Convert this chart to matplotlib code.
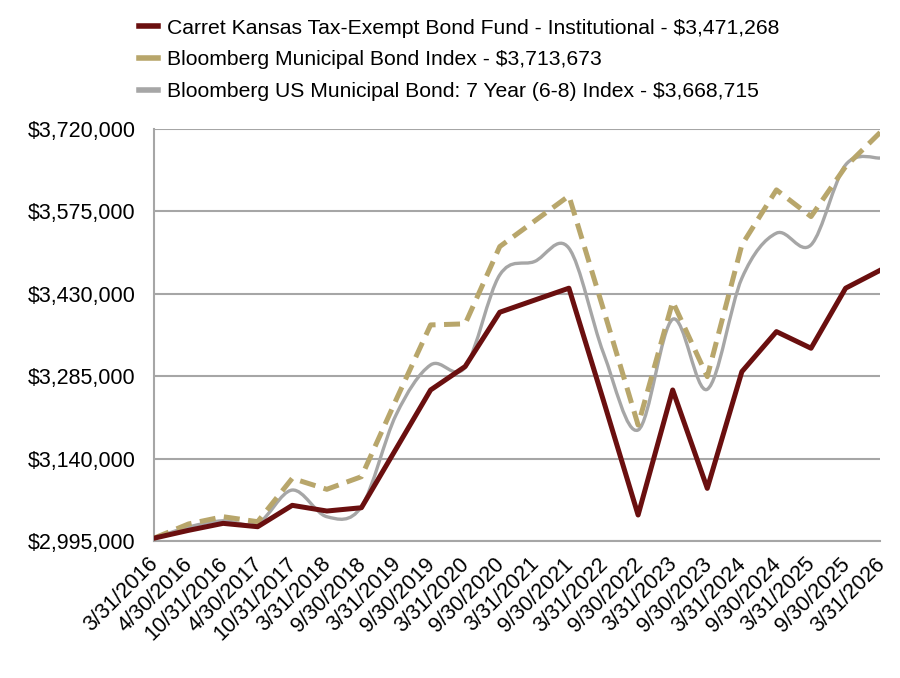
import matplotlib.pyplot as plt
import numpy as np
from matplotlib.path import Path
from matplotlib.patches import PathPatch
from matplotlib.lines import Line2D
from matplotlib.ticker import FuncFormatter
import matplotlib.transforms as mtransforms

plt.rcParams['font.family'] = ['Liberation Sans', 'DejaVu Sans']

# DATA ------------------------------------------------------------------------
dates = ['3/31/2016', '4/30/2016', '10/31/2016', '4/30/2017', '10/31/2017',
         '3/31/2018', '9/30/2018', '3/31/2019', '9/30/2019', '3/31/2020',
         '9/30/2020', '3/31/2021', '9/30/2021', '3/31/2022', '9/30/2022',
         '3/31/2023', '9/30/2023', '3/31/2024', '9/30/2024', '3/31/2025',
         '9/30/2025', '3/31/2026']

fund = [3000000, 3013800, 3026100, 3020200, 3057800, 3047800, 3053600,
        3157000, 3260700, 3302000, 3397400, 3418600, 3439700, 3241700,
        3040800, 3260700, 3087700, 3292900, 3363300, 3334100, 3439700,
        3471268]

muni = [3000000, 3025000, 3037800, 3029000, 3105300, 3086000, 3108200,
        3243100, 3375100, 3377000, 3512900, 3557500, 3602100, 3402000,
        3199100, 3416100, 3284100, 3515900, 3612600, 3565700, 3653700,
        3713673]

muni7 = [3000000, 3019600, 3030700, 3026100, 3084700, 3037800, 3055400,
         3216700, 3304700, 3300600, 3463100, 3486500, 3510000, 3325300,
         3190300, 3385100, 3261900, 3457200, 3536500, 3515900, 3656600,
         3668715]

labels = ['Carret Kansas Tax-Exempt Bond Fund - Institutional - $3,471,268',
          'Bloomberg Municipal Bond Index - $3,713,673',
          'Bloomberg US Municipal Bond: 7 Year (6-8) Index - $3,668,715']

y_ticks = [2995000, 3140000, 3285000, 3430000, 3575000, 3720000]

c_fund = '#6A0F0F'
c_muni = '#B8A66B'
c_muni7 = '#A6A6A6'


def smooth_path(x, y):
    # Excel style smoothed line: cubic bezier through every data point
    x = np.asarray(x, float)
    y = np.asarray(y, float)
    verts = [(x[0], y[0])]
    codes = [Path.MOVETO]
    n = len(x)
    for i in range(n - 1):
        p0 = (x[max(i - 1, 0)], y[max(i - 1, 0)])
        p1 = (x[i], y[i])
        p2 = (x[i + 1], y[i + 1])
        p3 = (x[min(i + 2, n - 1)], y[min(i + 2, n - 1)])
        c1 = (p1[0] + (p2[0] - p0[0]) / 6, p1[1] + (p2[1] - p0[1]) / 6)
        c2 = (p2[0] - (p3[0] - p1[0]) / 6, p2[1] - (p3[1] - p1[1]) / 6)
        verts += [c1, c2, p2]
        codes += [Path.CURVE4] * 3
    return Path(verts, codes)


fig = plt.figure(figsize=(9, 6.78), dpi=100)
ax = fig.add_axes([0.171, 0.202, 0.807, 0.608])

xs = np.arange(len(dates))

ax.add_patch(PathPatch(smooth_path(xs, muni7), facecolor='none',
                       edgecolor=c_muni7, lw=2.4, zorder=3,
                       capstyle='round', joinstyle='round'))
ax.plot(xs, muni, color=c_muni, lw=3.6, dashes=(3.2, 1.7), zorder=4)
ax.plot(xs, fund, color=c_fund, lw=3.6, zorder=5)

ax.set_xlim(0, len(dates) - 1)
ax.set_ylim(y_ticks[0], y_ticks[-1])
ax.set_yticks(y_ticks)
ax.yaxis.set_major_formatter(FuncFormatter(lambda v, p: '${:,.0f}'.format(v)))
ax.set_xticks(xs)
ax.set_xticklabels(dates, rotation=45, ha='right', va='top',
                   rotation_mode='anchor')
ax.tick_params(length=0, labelsize=15.5, colors='black')
ax.tick_params(axis='y', pad=13)
ax.tick_params(axis='x', pad=9)
shift = mtransforms.ScaledTranslation(-6 / 100, 0, fig.dpi_scale_trans)
for lab in ax.get_xticklabels():
    lab.set_transform(lab.get_transform() + shift)
ax.grid(axis='y', color='#A6A6A6', lw=1.5)
ax.set_axisbelow(True)
for s in ['top', 'right']:
    ax.spines[s].set_visible(False)
for s in ['left', 'bottom']:
    ax.spines[s].set_color('#A6A6A6')
    ax.spines[s].set_linewidth(1.5)

handles = [Line2D([], [], color=c, lw=4) for c in (c_fund, c_muni, c_muni7)]
fig.legend(handles, labels, loc='upper left', bbox_to_anchor=(0.145, 0.985),
           frameon=False, fontsize=15.2, handlelength=0.9, handletextpad=0.45,
           labelspacing=0.6, borderaxespad=0)

fig.savefig('out.png', dpi=100)
